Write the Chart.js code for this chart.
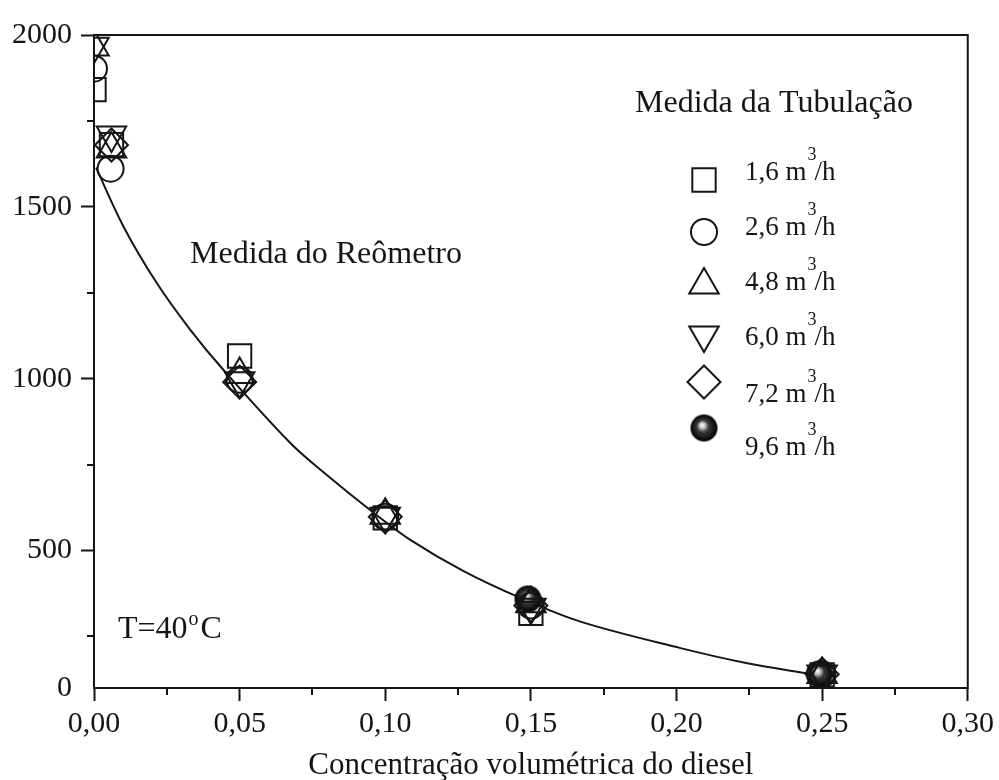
<!DOCTYPE html>
<html>
<head>
<meta charset="utf-8">
<title>Viscosidade x concentração de diesel</title>
<script src="https://cdn.jsdelivr.net/npm/chart.js@4.4.0/dist/chart.umd.min.js"></script>
<style>
  html, body { margin: 0; padding: 0; background: #ffffff; }
  #wrap { width: 999px; height: 780px; position: relative; }
</style>
</head>
<body>
<div id="wrap"><canvas id="chart" width="999" height="780"></canvas></div>
<script>
// ---- Data -------------------------------------------------------------
// Vazões medidas na tubulação (legenda)
const flowLabels = ['1,6', '2,6', '4,8', '6,0', '7,2', '9,6'];

// Concentração volumétrica (x) e valor medido (y) para cada vazão
const x16 = [0.000, 0.006, 0.050, 0.100, 0.150, 0.250];
const y16 = [1841, 1681, 1066, 595, 317, 138];

const x26 = [0.000, 0.0057, 0.050, 0.100, 0.150, 0.250];
const y26 = [1902, 1611, 997, 598, 340, 140];

const x48 = [0.000, 0.006, 0.050, 0.100, 0.150, 0.250];
const y48 = [1965, 1668, 1012, 603, 345, 139];

const x60 = [0.000, 0.006, 0.050, 0.100, 0.150, 0.250];
const y60 = [1967, 1709, 994, 600, 335, 141];

const x72 = [0.006, 0.050, 0.100, 0.150, 0.250];
const y72 = [1680, 990, 598, 340, 140];

const x96 = [0.149, 0.249];
const y96 = [359, 141];

// Curva do reômetro
const curveX = [0.0007, 0.0101, 0.0215, 0.0330, 0.0444, 0.0674, 0.0788,
                0.0960, 0.1086, 0.1269, 0.1464, 0.1670, 0.2014, 0.2243, 0.2460];
const curveY = [1614, 1443, 1279, 1143, 1026, 813, 728,
                610, 531, 440, 362, 293, 216, 172, 141];

// Eixos
const xMajorTicks = [0, 0.05, 0.10, 0.15, 0.20, 0.25, 0.30];
const xMajorLabels = ['0,00', '0,05', '0,10', '0,15', '0,20', '0,25', '0,30'];
const xMinorTicks = [0.025, 0.075, 0.125, 0.175, 0.225, 0.275];

const yMajorTicks = [100, 500, 1000, 1500, 2000];
const yMajorLabels = ['0', '500', '1000', '1500', '2000'];
const yMinorTicks = [250, 750, 1250, 1750];

// ---- Styling ------------------------------------------------------------
const INK = '#151515';
const SERIF = "'Liberation Serif', 'DejaVu Serif', serif";

function pairs(xs, ys) { return xs.map((x, i) => ({ x: x, y: ys[i] })); }

// Esfera preta com brilho (marcador de 9,6 m3/h)
function makeBall(r) {
  const size = Math.ceil(r * 2) + 2;
  const cv = document.createElement('canvas');
  cv.width = size; cv.height = size;
  const c = cv.getContext('2d');
  const cx = size / 2, cy = size / 2;
  const g = c.createRadialGradient(cx - 2, cy - 3, 0.5, cx, cy, r);
  g.addColorStop(0, '#f8f8f8');
  g.addColorStop(0.17, '#c8c8c8');
  g.addColorStop(0.42, '#3a3a3a');
  g.addColorStop(1, '#000000');
  c.fillStyle = g;
  c.beginPath(); c.arc(cx, cy, r, 0, Math.PI * 2); c.fill();
  return cv;
}
const ball = makeBall(13.5);

const markerStyles = [
  { pointStyle: 'rect', radius: 16.5, rotation: 0 },
  { pointStyle: 'circle', radius: 13, rotation: 0 },
  { pointStyle: 'triangle', radius: 17, rotation: 0 },
  { pointStyle: 'triangle', radius: 17, rotation: 180 },
  { pointStyle: 'rectRot', radius: 16.5, rotation: 0 },
  { pointStyle: ball, radius: 13.5, rotation: 0 }
];

const seriesData = [pairs(x16, y16), pairs(x26, y26), pairs(x48, y48),
                    pairs(x60, y60), pairs(x72, y72), pairs(x96, y96)];

const datasets = seriesData.map((d, i) => ({
  label: flowLabels[i] + ' m³/h',
  data: d,
  showLine: false,
  pointStyle: markerStyles[i].pointStyle,
  pointRadius: markerStyles[i].radius,
  pointRotation: markerStyles[i].rotation,
  pointBorderWidth: 2,
  pointBorderColor: INK,
  pointBackgroundColor: 'rgba(0,0,0,0)',
  pointHoverRadius: markerStyles[i].radius,
  clip: 0,
  order: 1
}));

datasets.push({
  label: 'Reômetro',
  data: pairs(curveX, curveY),
  showLine: true,
  borderColor: INK,
  borderWidth: 2,
  pointRadius: 0,
  tension: 0.35,
  fill: false,
  clip: 0,
  order: 10
});

// Moldura, ticks menores, legenda e anotações
const decorations = {
  id: 'decorations',
  afterDraw(chart) {
    const ctx = chart.ctx;
    const a = chart.chartArea;
    const xs = chart.scales.x, ys = chart.scales.y;
    ctx.save();
    ctx.strokeStyle = INK;
    ctx.lineWidth = 2;
    ctx.strokeRect(a.left, a.top, a.right - a.left, a.bottom - a.top);

    // ticks menores
    ctx.beginPath();
    xMinorTicks.forEach(v => {
      const px = Math.round(xs.getPixelForValue(v));
      ctx.moveTo(px, a.bottom); ctx.lineTo(px, a.bottom + 7);
    });
    yMinorTicks.forEach(v => {
      const py = Math.round(ys.getPixelForValue(v));
      ctx.moveTo(a.left, py); ctx.lineTo(a.left - 7, py);
    });
    ctx.stroke();

    // textos
    ctx.fillStyle = INK;
    ctx.textBaseline = 'alphabetic';
    ctx.textAlign = 'left';
    ctx.font = '32px ' + SERIF;
    ctx.fillText('Medida do Reômetro', 190, 263);
    ctx.fillText('Medida da Tubulação', 635, 112);

    ctx.font = '32px ' + SERIF;
    ctx.fillText('T=40', 118, 638);
    let w = ctx.measureText('T=40').width;
    ctx.font = '20px ' + SERIF;
    ctx.fillText('o', 119 + w, 625);
    const wo = ctx.measureText('o').width;
    ctx.font = '32px ' + SERIF;
    ctx.fillText('C', 121 + w + wo, 638);

    // legenda
    const markerX = 704;
    const markerY = [180, 232, 285, 335, 382, 428];
    const textY = [180, 235, 290, 345, 402, 455];
    markerStyles.forEach((m, i) => {
      ctx.strokeStyle = INK;
      ctx.fillStyle = 'rgba(0,0,0,0)';
      ctx.lineWidth = 2;
      Chart.helpers.drawPoint(ctx, {
        pointStyle: m.pointStyle, radius: m.radius, rotation: m.rotation, borderWidth: 2
      }, markerX, markerY[i]);
      ctx.fillStyle = INK;
      ctx.font = '27px ' + SERIF;
      const base = flowLabels[i] + ' m';
      ctx.fillText(base, 745, textY[i]);
      const bw = ctx.measureText(base).width;
      ctx.font = '18px ' + SERIF;
      ctx.fillText('3', 746 + bw, textY[i] - 20);
      const sw = ctx.measureText('3').width;
      ctx.font = '27px ' + SERIF;
      ctx.fillText('/h', 745 + bw + sw - 1, textY[i]);
    });
    ctx.restore();
  }
};

function setTicks(values) {
  return function (scale) { scale.ticks = values.map(v => ({ value: v })); };
}

new Chart(document.getElementById('chart'), {
  type: 'scatter',
  data: { datasets: datasets },
  plugins: [decorations],
  options: {
    responsive: false,
    animation: false,
    events: [],
    layout: { padding: { top: 35, right: 30, left: 0, bottom: 0 } },
    plugins: { legend: { display: false }, tooltip: { enabled: false } },
    scales: {
      x: {
        type: 'linear',
        min: 0, max: 0.30,
        afterBuildTicks: setTicks(xMajorTicks),
        afterFit(scale) { scale.height = 92; },
        border: { display: false },
        grid: {
          display: true, drawOnChartArea: false, drawTicks: true,
          tickLength: 13, tickWidth: 2, tickColor: INK
        },
        ticks: {
          autoSkip: false, maxRotation: 0, padding: 5,
          color: INK, font: { family: SERIF, size: 30 },
          callback(v) {
            const i = xMajorTicks.findIndex(t => Math.abs(t - v) < 1e-9);
            return i >= 0 ? xMajorLabels[i] : '';
          }
        },
        title: {
          display: true,
          text: 'Concentração volumétrica do diesel',
          color: INK,
          font: { family: SERIF, size: 31 },
          padding: { top: 0, bottom: -4 }
        }
      },
      y: {
        type: 'linear',
        min: 100, max: 2000,
        afterBuildTicks: setTicks(yMajorTicks),
        afterFit(scale) { scale.width = 94; },
        border: { display: false },
        grid: {
          display: true, drawOnChartArea: false, drawTicks: true,
          tickLength: 13, tickWidth: 2,
          tickColor(ctx) { return ctx.tick && ctx.tick.value === 100 ? 'rgba(0,0,0,0)' : INK; }
        },
        ticks: {
          autoSkip: false, padding: 9,
          color: INK, font: { family: SERIF, size: 30 },
          callback(v) {
            const i = yMajorTicks.indexOf(v);
            return i >= 0 ? yMajorLabels[i] : '';
          }
        }
      }
    }
  }
});
</script>
</body>
</html>
